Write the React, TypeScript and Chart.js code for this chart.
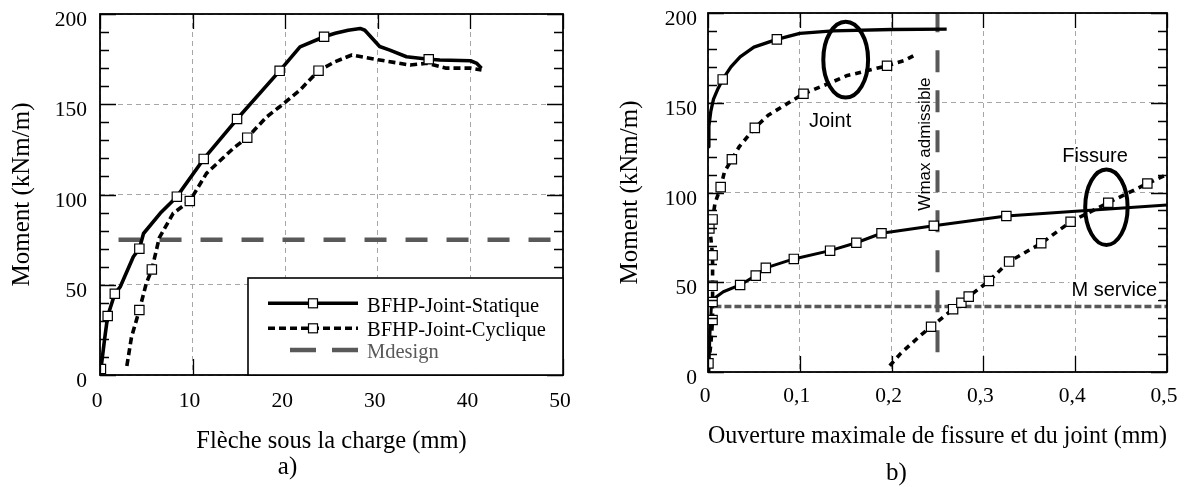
import React, { useEffect, useRef } from 'react';
import { Chart, registerables } from 'chart.js';

Chart.register(...registerables);

const SERIF = '"Liberation Serif", "Times New Roman", serif';
const SANS = '"Liberation Sans", Arial, sans-serif';
const GRID = '#a6a6a6';
const GRAY = '#595959';

// ---------- shared y axis ----------
const yMajorTicks = [0, 50, 100, 150, 200];
const yTickLabels = ['0', '50', '100', '150', '200'];
const yMinorTicks = [10, 20, 30, 40, 60, 70, 80, 90, 110, 120, 130, 140, 160, 170, 180, 190];

// ---------- panel a) ----------
const aXTicks = [0, 10, 20, 30, 40, 50];
const aXTickLabels = ['0', '10', '20', '30', '40', '50'];

const aStatX = [0.1, 0.5, 0.83, 1.6, 2.2, 3.6, 4.25, 4.7, 6.5, 8.3, 11.2, 14.8, 19.4, 21.6, 24.2, 25.4, 26.8, 28.1, 28.6, 30.2, 31.3, 33.1, 35.5, 36.7, 40.0, 40.7, 41.2];
const aStatY = [3.3, 20, 32.7, 45, 49, 65.5, 70, 78.4, 89.6, 98.8, 119.7, 141.8, 168.5, 181.8, 187.4, 189.3, 191, 192, 191, 182, 180, 176.3, 174.9, 174.5, 174.1, 172.6, 170];
const aStatMark = [1, 0, 1, 1, 0, 0, 1, 0, 0, 1, 1, 1, 1, 0, 1, 0, 0, 0, 0, 0, 0, 0, 1, 0, 0, 0, 0];

const aCycX = [2.9, 3.4, 4.25, 5.0, 5.6, 6.4, 7.9, 9.7, 11.5, 14.4, 15.9, 18.0, 19.4, 21.6, 23.6, 25.4, 27.2, 30.2, 33.5, 35.3, 37.4, 40.0, 41.2];
const aCycY = [5, 21, 36, 50.8, 58.5, 76, 89.6, 96.4, 111.7, 125.6, 131.5, 143, 148.6, 157.9, 168.6, 173.6, 177.3, 174.5, 171.7, 172.7, 170, 170, 169];
const aCycMark = [0, 0, 1, 0, 1, 0, 0, 1, 0, 0, 1, 0, 0, 0, 1, 0, 0, 0, 0, 0, 0, 0, 0];

const aDesignX = [2, 50];
const aDesignY = [75, 75];

// ---------- panel b) ----------
const bXTicks = [0, 0.1, 0.2, 0.3, 0.4, 0.5];
const bXTickLabels = ['0', '0,1', '0,2', '0,3', '0,4', '0,5'];

const bJointStatX = [0.0003, 0.001, 0.003, 0.006, 0.011, 0.016, 0.025, 0.035, 0.05, 0.075, 0.1, 0.136, 0.2, 0.26];
const bJointStatY = [125.5, 137, 145, 152, 158, 163, 170, 175.6, 181, 185.3, 188.7, 190, 190.8, 191];
const bJointStatMark = [0, 0, 0, 0, 0, 1, 0, 0, 0, 1, 0, 0, 0, 0];

const bJointCycX = [0.0005, 0.003, 0.005, 0.005, 0.005, 0.005, 0.003, 0.0015, 0.005, 0.0076, 0.0138, 0.018, 0.026, 0.034, 0.051, 0.0655, 0.0837, 0.104, 0.136, 0.1507, 0.195, 0.214, 0.225];
const bJointCycY = [4.8, 15, 29, 39, 48, 65, 75, 80, 85, 94, 103, 111.6, 118.5, 125.5, 136, 143, 148.7, 155, 161.7, 165, 170.6, 173.5, 176.5];
const bJointCycMark = [1, 0, 1, 1, 1, 1, 0, 1, 1, 0, 1, 0, 1, 0, 1, 0, 0, 1, 0, 0, 1, 0, 0];

const bFisStatX = [0.001, 0.002, 0.004, 0.0167, 0.035, 0.052, 0.063, 0.0935, 0.133, 0.1616, 0.189, 0.246, 0.325, 0.5];
const bFisStatY = [0, 20, 40, 44.7, 48.5, 53.7, 58, 63, 67.6, 72, 77.3, 81.5, 86.9, 93];
const bFisStatMark = [0, 0, 0, 0, 1, 1, 1, 1, 1, 1, 1, 1, 1, 0];

const bFisCycX = [0.198, 0.21, 0.232, 0.243, 0.267, 0.276, 0.284, 0.306, 0.328, 0.363, 0.395, 0.436, 0.4786, 0.5];
const bFisCycY = [3.5, 10.4, 20.6, 25.2, 35, 38.6, 42, 50.7, 61.5, 71.7, 83.7, 94.3, 105, 110];
const bFisCycMark = [0, 0, 0, 1, 1, 1, 1, 1, 1, 1, 1, 1, 1, 0];

const bWmaxX = [0.25, 0.25];
const bWmaxY = [11, 200];
const bServX = [0.007, 0.5];
const bServY = [36.5, 36.5];

// annotations of panel b (anchored in data coordinates)
const bNotes = [
  { text: 'Joint', x: 0.133, y: 136.7, size: 20, rotate: false, bg: false },
  { text: 'Fissure', x: 0.4216, y: 117.2, size: 20, rotate: false, bg: false },
  { text: 'M service', x: 0.4425, y: 42.3, size: 20, rotate: false, bg: true },
  { text: 'Wmax admissible', x: 0.2418, y: 127, size: 17, rotate: true, bg: false },
];
const bEllipses = [
  { x: 0.150, y: 174, rx: 0.0244, ry: 21.1 },
  { x: 0.434, y: 91.8, rx: 0.0231, ry: 21 },
];

const toPts = (xs: number[], ys: number[]) => xs.map((x, i) => ({ x, y: ys[i] }));
const radii = (m: number[]) => m.map((v) => (v ? 6.6 : 0));

function curve(label: string, xs: number[], ys: number[], marks: number[], dash: number[], width: number) {
  return {
    label,
    data: toPts(xs, ys),
    showLine: true,
    borderColor: '#000',
    borderWidth: width,
    borderDash: dash,
    borderCapStyle: 'butt',
    borderJoinStyle: 'round',
    tension: 0,
    pointStyle: 'rect',
    pointRadius: radii(marks),
    pointHoverRadius: radii(marks),
    pointBackgroundColor: '#fff',
    pointBorderColor: '#000',
    pointBorderWidth: 1.2,
  };
}

function refLine(label: string, xs: number[], ys: number[], dash: number[], width: number) {
  return {
    label,
    data: toPts(xs, ys),
    showLine: true,
    borderColor: GRAY,
    borderWidth: width,
    borderDash: dash,
    borderCapStyle: 'butt',
    pointRadius: 0,
    pointHoverRadius: 0,
  };
}

function yAxis(width: number, titlePad: number, tickPad: number, labelOffset: number) {
  return {
    type: 'linear',
    min: 0,
    max: 200,
    afterBuildTicks: (s: any) => {
      s.ticks = yMajorTicks.map((v) => ({ value: v }));
    },
    afterFit: (s: any) => {
      s.width = width;
      s.paddingTop = 0;
      s.paddingBottom = 0;
    },
    ticks: {
      callback: (_v: any, i: number) => yTickLabels[i],
      font: { family: SERIF, size: 21.5 },
      color: '#000',
      padding: tickPad,
      labelOffset,
    },
    grid: { color: GRID, lineWidth: 1, drawTicks: false },
    border: { display: false, dash: [5, 4] },
    title: {
      display: true,
      text: 'Moment (kNm/m)',
      font: { family: SERIF, size: 25 },
      color: '#000',
      padding: { top: titlePad, bottom: 0 },
    },
  };
}

function xAxis(min: number, max: number, ticksArr: number[], labels: string[], height: number, tickPad: number, title: string, titlePadBottom: number) {
  return {
    type: 'linear',
    min,
    max,
    afterBuildTicks: (s: any) => {
      s.ticks = ticksArr.map((v) => ({ value: v }));
    },
    afterFit: (s: any) => {
      s.height = height;
      s.paddingLeft = 0;
      s.paddingRight = 0;
    },
    ticks: {
      callback: (_v: any, i: number) => labels[i],
      font: { family: SERIF, size: 21.5 },
      color: '#000',
      padding: tickPad,
      labelOffset: -3,
      maxRotation: 0,
      autoSkip: false,
    },
    grid: { color: GRID, lineWidth: 1, drawTicks: false },
    border: { display: false, dash: [5, 4] },
    title: {
      display: true,
      text: title,
      font: { family: SERIF, size: 24.5 },
      color: '#000',
      padding: { top: 0, bottom: titlePadBottom },
    },
  };
}

const decorPlugin = {
  id: 'decor',
  afterDatasetsDraw(chart: any, _args: any, opts: any) {
    const { ctx, chartArea } = chart;
    const { left, right, top, bottom } = chartArea;
    const xs = chart.scales.x;
    const ys = chart.scales.y;
    ctx.save();

    // ellipses
    for (const e of opts.ellipses || []) {
      const cx = xs.getPixelForValue(e.x);
      const cy = ys.getPixelForValue(e.y);
      const rx = Math.abs(xs.getPixelForValue(e.x + e.rx) - cx);
      const ry = Math.abs(ys.getPixelForValue(e.y + e.ry) - cy);
      ctx.beginPath();
      ctx.ellipse(cx, cy, rx, ry, 0, 0, Math.PI * 2);
      ctx.lineWidth = 4;
      ctx.strokeStyle = '#000';
      ctx.setLineDash([]);
      ctx.stroke();
    }

    // ticks (inward, both sides)
    ctx.strokeStyle = '#000';
    ctx.lineWidth = 1.3;
    ctx.setLineDash([]);
    ctx.beginPath();
    for (const v of yMinorTicks) {
      const py = Math.round(ys.getPixelForValue(v)) + 0.5;
      ctx.moveTo(left, py);
      ctx.lineTo(left + 9, py);
      ctx.moveTo(right, py);
      ctx.lineTo(right - 9, py);
    }
    for (const v of yMajorTicks) {
      const py = Math.round(ys.getPixelForValue(v)) + 0.5;
      ctx.moveTo(left, py);
      ctx.lineTo(left + 16, py);
      ctx.moveTo(right, py);
      ctx.lineTo(right - 16, py);
    }
    for (const v of opts.xTicks || []) {
      const px = Math.round(xs.getPixelForValue(v)) + 0.5;
      ctx.moveTo(px, bottom);
      ctx.lineTo(px, bottom - 16);
      ctx.moveTo(px, top);
      ctx.lineTo(px, top + 15);
    }
    ctx.stroke();

    // frame
    ctx.lineWidth = 1.8;
    ctx.strokeRect(left, top, right - left, bottom - top);

    // legend box (panel a)
    if (opts.legend) {
      const bl = right - 315;
      const bt = bottom - 97;
      ctx.fillStyle = '#fff';
      ctx.fillRect(bl, bt, right - bl, bottom - bt);
      ctx.lineWidth = 1.6;
      ctx.strokeStyle = '#000';
      ctx.strokeRect(bl, bt, right - bl, bottom - bt);
      const lineY = [bottom - 71.7, bottom - 46.7, bottom - 25];
      const textY = [bottom - 63.3, bottom - 39, bottom - 16.7];
      const dsets = chart.data.datasets;
      dsets.forEach((ds: any, i: number) => {
        if (i > 2) return;
        ctx.save();
        ctx.strokeStyle = ds.borderColor;
        ctx.lineWidth = ds.borderWidth;
        if (i < 2) {
          ctx.setLineDash(ds.borderDash || []);
          ctx.beginPath();
          ctx.moveTo(bl + 20, lineY[i]);
          ctx.lineTo(bl + 110, lineY[i]);
          ctx.stroke();
          ctx.setLineDash([]);
          ctx.fillStyle = '#fff';
          ctx.lineWidth = 1.2;
          ctx.fillRect(bl + 60.5, lineY[i] - 4.5, 9, 9);
          ctx.strokeRect(bl + 60.5, lineY[i] - 4.5, 9, 9);
        } else {
          ctx.setLineDash([26, 16]);
          ctx.beginPath();
          ctx.moveTo(bl + 42, lineY[i]);
          ctx.lineTo(bl + 110, lineY[i]);
          ctx.stroke();
        }
        ctx.restore();
        ctx.fillStyle = i === 2 ? GRAY : '#000';
        ctx.font = `20.5px ${SERIF}`;
        ctx.textAlign = 'left';
        ctx.textBaseline = 'alphabetic';
        ctx.fillText(ds.label, bl + 119, textY[i]);
      });
    }

    // text notes
    for (const n of opts.notes || []) {
      const px = xs.getPixelForValue(n.x);
      const py = ys.getPixelForValue(n.y);
      ctx.save();
      ctx.font = `${n.size}px ${SANS}`;
      ctx.textAlign = 'center';
      ctx.textBaseline = 'alphabetic';
      ctx.translate(px, py);
      if (n.rotate) ctx.rotate(-Math.PI / 2);
      if (n.bg) {
        const w = ctx.measureText(n.text).width;
        ctx.fillStyle = '#fff';
        ctx.fillRect(-w / 2 - 2, -n.size * 0.8, w + 4, n.size);
      }
      ctx.fillStyle = '#000';
      ctx.fillText(n.text, 0, 0);
      ctx.restore();
    }

    // panel label
    if (opts.panel) {
      ctx.fillStyle = '#000';
      ctx.font = `25px ${SERIF}`;
      ctx.textAlign = 'center';
      ctx.textBaseline = 'alphabetic';
      ctx.fillText(opts.panel.text, (left + right) / 2 + opts.panel.dx, opts.panel.baseline);
    }
    ctx.restore();
  },
};

function makeConfigA(): any {
  return {
    type: 'scatter',
    data: {
      datasets: [
        curve('BFHP-Joint-Statique', aStatX, aStatY, aStatMark, [], 3.6),
        curve('BFHP-Joint-Cyclique', aCycX, aCycY, aCycMark, [7, 4], 3.6),
        refLine('Mdesign', aDesignX, aDesignY, [22, 19], 4.5),
      ],
    },
    options: {
      responsive: false,
      animation: false,
      devicePixelRatio: 1,
      layout: { padding: { top: 14, right: 27, left: 0, bottom: 0 } },
      plugins: {
        legend: { display: false },
        tooltip: { enabled: false },
        decor: {
          xTicks: aXTicks,
          legend: true,
          panel: { text: 'a)', dx: -44, baseline: 474 },
        },
      },
      scales: {
        x: xAxis(0, 50, aXTicks, aXTickLabels, 112, 13, 'Flèche sous la charge (mm)', 31),
        y: yAxis(100, 7, 13, 6.5),
      },
    },
    plugins: [decorPlugin],
  };
}

function makeConfigB(): any {
  return {
    type: 'scatter',
    data: {
      datasets: [
        curve('Joint statique', bJointStatX, bJointStatY, bJointStatMark, [], 3.3),
        curve('Joint cyclique', bJointCycX, bJointCycY, bJointCycMark, [6, 5], 3.6),
        curve('Fissure statique', bFisStatX, bFisStatY, bFisStatMark, [], 3),
        curve('Fissure cyclique', bFisCycX, bFisCycY, bFisCycMark, [6, 5], 3.6),
        refLine('Wmax admissible', bWmaxX, bWmaxY, [22, 18], 4),
        refLine('M service', bServX, bServY, [7, 3], 3.4),
      ],
    },
    options: {
      responsive: false,
      animation: false,
      devicePixelRatio: 1,
      layout: { padding: { top: 13, right: 28, left: 0, bottom: 0 } },
      plugins: {
        legend: { display: false },
        tooltip: { enabled: false },
        decor: {
          xTicks: bXTicks,
          notes: bNotes,
          ellipses: bEllipses,
          panel: { text: 'b)', dx: -41, baseline: 480 },
        },
      },
      scales: {
        x: xAxis(0, 0.5, bXTicks, bXTickLabels, 115, 11, 'Ouverture maximale de fissure et du joint (mm)', 36),
        y: yAxis(118, 25, 11, 6.5),
      },
    },
    plugins: [decorPlugin],
  };
}

export default function App() {
  const refA = useRef<HTMLCanvasElement>(null);
  const refB = useRef<HTMLCanvasElement>(null);

  useEffect(() => {
    const ca = new Chart(refA.current as HTMLCanvasElement, makeConfigA());
    const cb = new Chart(refB.current as HTMLCanvasElement, makeConfigB());
    return () => {
      ca.destroy();
      cb.destroy();
    };
  }, []);

  return (
    <div style={{ position: 'absolute', left: 0, top: 0, width: 1195, height: 487, background: '#fff', overflow: 'hidden' }}>
      <canvas ref={refA} width={590} height={487} style={{ position: 'absolute', left: 0, top: 0, width: 590, height: 487 }} />
      <canvas ref={refB} width={605} height={487} style={{ position: 'absolute', left: 590, top: 0, width: 605, height: 487 }} />
    </div>
  );
}
